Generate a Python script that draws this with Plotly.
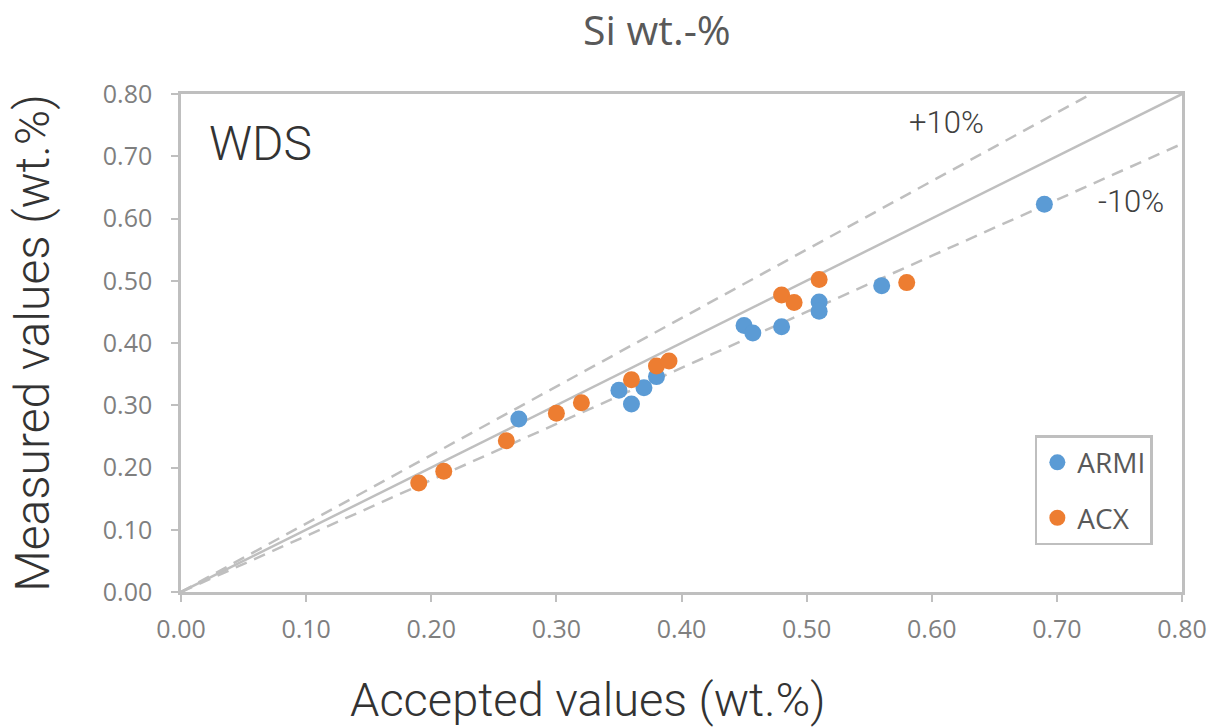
import plotly.graph_objects as go

armi_x = [0.27, 0.35, 0.36, 0.37, 0.38, 0.45, 0.457, 0.48, 0.51, 0.51, 0.56, 0.69]
armi_y = [0.278, 0.324, 0.302, 0.328, 0.346, 0.428, 0.416, 0.426, 0.466, 0.451, 0.492, 0.623]
acx_x = [0.19, 0.21, 0.26, 0.30, 0.32, 0.36, 0.38, 0.39, 0.48, 0.49, 0.51, 0.58]
acx_y = [0.175, 0.194, 0.243, 0.287, 0.304, 0.341, 0.363, 0.371, 0.477, 0.465, 0.502, 0.497]

ref_x = [0.0, 0.8]
ref_y = [0.0, 0.8]
plus_x = [0.0, 0.8 / 1.1]
plus_y = [0.0, 0.8]
minus_x = [0.0, 0.8]
minus_y = [0.0, 0.72]

ticks = [0.0, 0.1, 0.2, 0.3, 0.4, 0.5, 0.6, 0.7, 0.8]
tick_text = ["0.00", "0.10", "0.20", "0.30", "0.40", "0.50", "0.60", "0.70", "0.80"]

BLUE = "#5B9BD5"
ORANGE = "#ED7D31"
GRID = "#BFBFBF"

fig = go.Figure()
fig.add_trace(go.Scatter(x=ref_x, y=ref_y, mode="lines", line=dict(color=GRID, width=2.5),
                         showlegend=False, hoverinfo="skip"))
fig.add_trace(go.Scatter(x=plus_x, y=plus_y, mode="lines", line=dict(color=GRID, width=2.5, dash="12px,8px"),
                         showlegend=False, hoverinfo="skip"))
fig.add_trace(go.Scatter(x=minus_x, y=minus_y, mode="lines", line=dict(color=GRID, width=2.5, dash="12px,8px"),
                         showlegend=False, hoverinfo="skip"))
fig.add_trace(go.Scatter(x=armi_x, y=armi_y, mode="markers", name="ARMI", legendgroup="a",
                         marker=dict(color=BLUE, size=17)))
fig.add_trace(go.Scatter(x=acx_x, y=acx_y, mode="markers", name="ACX", legendgroup="b",
                         marker=dict(color=ORANGE, size=17)))

axis_common = dict(
    range=[0, 0.8], tickvals=ticks, ticktext=tick_text, automargin=False,
    showgrid=False, zeroline=False, showline=True, linecolor=GRID, linewidth=2.5,
    mirror=True, ticks="outside", ticklen=7, tickwidth=2, tickcolor=GRID,
    tickfont=dict(family="Open Sans", size=25, color="#7F7F7F"),
)

fig.update_layout(
    width=1212, height=728,
    margin=dict(l=181, r=30, t=94, b=136),
    paper_bgcolor="white", plot_bgcolor="white",
    title=dict(text="Si wt.-%", x=0.542, xanchor="center", y=0.958, yanchor="middle",
               font=dict(family="Open Sans", size=41, color="#595959")),
    xaxis=dict(**axis_common, ticklabelstandoff=6),
    yaxis=dict(**axis_common, ticklabelstandoff=14,
               title=dict(text="Measured values (wt.%)", standoff=38,
               font=dict(family="Roboto", size=48, color="#333333", weight=300))),
    legend=dict(x=0.853, y=0.315, xanchor="left", yanchor="top",
                bordercolor=GRID, borderwidth=2.5, bgcolor="white",
                font=dict(family="Open Sans", size=28, color="#595959"),
                tracegroupgap=16),
    showlegend=True,
)

fig.add_annotation(x=0.4066, y=-0.215, xref="paper", yref="paper", text="Accepted values (wt.%)",
                   showarrow=False, xanchor="center", yanchor="middle",
                   font=dict(family="Roboto", size=47, color="#333333", weight=300))
fig.add_annotation(x=0.0208, y=0.72, xref="x", yref="y", text="WDS", showarrow=False,
                   xanchor="left", yanchor="middle",
                   font=dict(family="Roboto", size=48, color="#333333", weight=300))
fig.add_annotation(x=0.612, y=0.755, xref="x", yref="y", text="+10%", showarrow=False,
                   xanchor="center", yanchor="middle",
                   font=dict(family="Roboto", size=31, color="#404040", weight=300))
fig.add_annotation(x=0.759, y=0.628, xref="x", yref="y", text="-10%", showarrow=False,
                   xanchor="center", yanchor="middle",
                   font=dict(family="Roboto", size=31, color="#404040", weight=300))

fig.write_html("out.html")
